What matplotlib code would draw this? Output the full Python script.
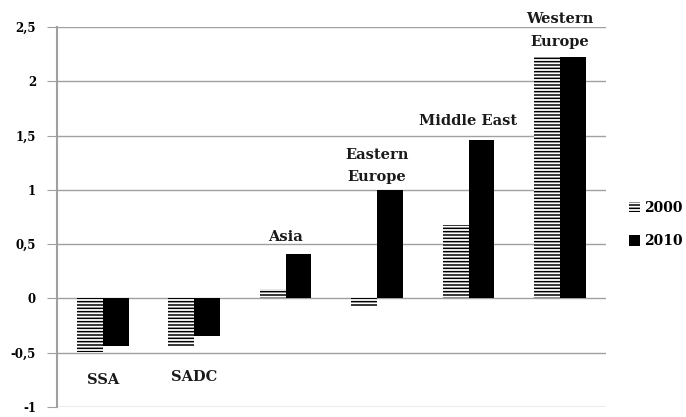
import matplotlib
import matplotlib.pyplot as plt
import numpy as np

matplotlib.use("Agg")

regions = ["SSA", "SADC", "Asia", "Eastern\nEurope", "Middle East", "Western\nEurope"]
values_2000 = [-0.49, -0.45, 0.09, -0.07, 0.68, 2.23]
values_2010 = [-0.44, -0.35, 0.41, 1.00, 1.46, 2.22]
yticks = [-1, -0.5, 0, 0.5, 1, 1.5, 2, 2.5]
ytick_labels = ["-1", "-0,5", "0", "0,5", "1", "1,5", "2", "2,5"]

# label placement per region: value the text sits at, and alignment
label_y = [-0.75, -0.72, 0.5, 1.05, 1.57, 2.3]
label_va = ["center", "center", "bottom", "bottom", "bottom", "bottom"]

plt.rcParams["hatch.linewidth"] = 1.1
serif = ["DejaVu Serif"]

fig = plt.figure(figsize=(6.86, 4.17), dpi=100)
ax = fig.add_axes([0.083, 0.024, 0.800, 0.911])

x = np.arange(len(regions))
w = 0.283
b1 = ax.bar(x - w / 2, values_2000, w, color="white", edgecolor="black",
            hatch="-----", linewidth=0, label="2000", zorder=3)
b2 = ax.bar(x + w / 2, values_2010, w, color="black", edgecolor="black",
            linewidth=0, label="2010", zorder=3)

for xi, name, ly, va in zip(x, regions, label_y, label_va):
    ax.text(xi, ly, name, ha="center", va=va, family=serif, fontweight="bold",
            fontsize=10.5, color="#1a1a1a", linespacing=1.8)

ax.set_xlim(-0.5, 5.5)
ax.set_ylim(-1, 2.5)
ax.set_yticks(yticks)
ax.set_yticklabels(ytick_labels, family=serif, fontweight="bold", fontsize=8.5)
ax.set_xticks([])
ax.yaxis.grid(True, color="#a0a0a0", linewidth=1)
ax.set_axisbelow(True)
ax.tick_params(axis="y", length=7, color="#a0a0a0", pad=8)
for side in ["top", "right", "bottom"]:
    ax.spines[side].set_visible(False)
ax.spines["left"].set_color("#a0a0a0")
ax.spines["left"].set_linewidth(1.5)

ax.legend(handles=[b1, b2], loc="center left", bbox_to_anchor=(1.02, 0.48),
          frameon=False, handlelength=0.75, handleheight=0.75, handletextpad=0.3,
          labelspacing=1.4, prop={"family": serif, "weight": "bold", "size": 10})

fig.savefig("out.png", dpi=100)
